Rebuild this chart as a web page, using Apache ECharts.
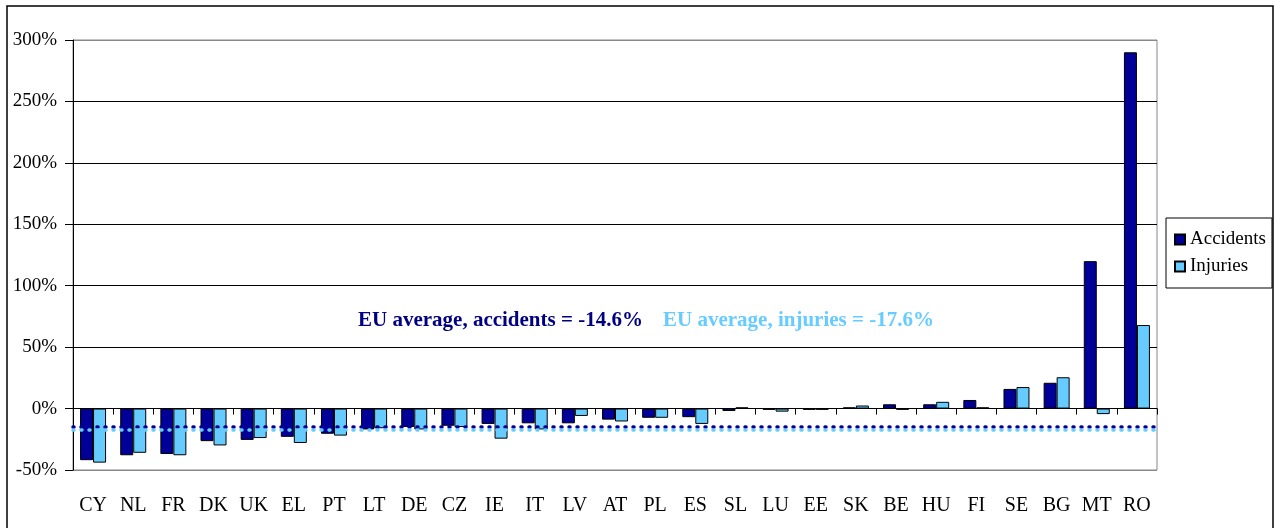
<!DOCTYPE html>
<html>
<head>
<meta charset="utf-8">
<title>Accidents and injuries change</title>
<script src="https://cdn.jsdelivr.net/npm/echarts@6/dist/echarts.min.js"></script>
<style>
  html, body { margin: 0; padding: 0; background: #fff; }
  #chart { width: 1276px; height: 528px; }
</style>
</head>
<body>
<div id="chart"></div>
<script>
var countries = ['CY', 'NL', 'FR', 'DK', 'UK', 'EL', 'PT', 'LT', 'DE', 'CZ', 'IE', 'IT', 'LV', 'AT', 'PL', 'ES', 'SL', 'LU', 'EE', 'SK', 'BE', 'HU', 'FI', 'SE', 'BG', 'MT', 'RO'];
var accidents = [-42, -38, -37, -26.5, -25.5, -23, -20.5, -17, -15, -14, -12.5, -12, -12, -9, -7.5, -7, -2, -1, -1, 1, 3.5, 3.5, 7, 16, 21, 120, 290];
var injuries = [-44, -36, -38, -30, -24, -28, -22, -16, -17, -15, -24.5, -17, -6, -10.5, -7.5, -12.5, 1, -2.5, -1, 2.5, -1, 5.5, 1, 17.5, 25.5, -4.5, 68];
var accidentsAvg = -14.6;
var injuriesAvg = -17.6;
var yTicks = { min: -50, max: 300, step: 50 };

var navy = '#000099';
var sky = '#66CCFF';
var serif = '"Liberation Serif", "DejaVu Serif", serif';

var chart = echarts.init(document.getElementById('chart'), null, {renderer: 'canvas'});

chart.setOption({
    animation: false,
    backgroundColor: '#fff',
    grid: {
        left: 73, top: 40, right: 119, bottom: 58,
        show: true, borderColor: '#888', borderWidth: 1, backgroundColor: 'transparent'
    },
    legend: {
        orient: 'vertical',
        left: 1166, top: 218,
        padding: [12, 6, 12, 8],
        itemGap: 8,
        itemWidth: 10, itemHeight: 10,
        itemTextGap: 9,
        icon: 'rect',
        borderColor: '#000', borderWidth: 1,
        textStyle: { fontFamily: serif, fontSize: 19, color: '#000' },
        data: ['Accidents', 'Injuries']
    },
    xAxis: [{
        type: 'category',
        data: countries,
        position: 'bottom',
        axisLine: { onZero: true, lineStyle: { color: '#000', width: 1 } },
        axisTick: { show: true, length: 6, lineStyle: { color: '#000' } },
        axisLabel: { show: false }
    }, {
        type: 'category',
        data: countries,
        position: 'bottom',
        axisLine: { show: false, onZero: false },
        axisTick: { show: false },
        axisLabel: { margin: 26, fontFamily: serif, fontSize: 20, color: '#000', interval: 0 }
    }],
    yAxis: {
        type: 'value',
        min: yTicks.min, max: yTicks.max, interval: yTicks.step,
        axisLine: { show: true, lineStyle: { color: '#000' } },
        axisTick: { show: true, length: 8, lineStyle: { color: '#000' } },
        axisLabel: {
            formatter: '{value}%', margin: 16,
            fontFamily: serif, fontSize: 19, color: '#000'
        },
        splitLine: { lineStyle: { color: ['#888', '#000', '#000', '#000', '#000', '#000', '#000', '#888'], width: 1 } }
    },
    series: [{
        name: 'Accidents',
        type: 'bar',
        data: accidents,
        barWidth: 13,
        barGap: '0%',
        itemStyle: { color: navy, borderColor: '#000', borderWidth: 1 },
        markLine: {
            silent: true, symbol: 'none', label: { show: false },
            lineStyle: { color: navy, type: [1, 7], width: 3.5, cap: 'round' },
            data: [{ yAxis: accidentsAvg }]
        }
    }, {
        name: 'Injuries',
        type: 'bar',
        data: injuries,
        barWidth: 13,
        barGap: '0%',
        itemStyle: { color: sky, borderColor: '#000', borderWidth: 1 },
        markLine: {
            silent: true, symbol: 'none', label: { show: false },
            lineStyle: { color: sky, type: [1, 7], width: 3.5, cap: 'round' },
            data: [{ yAxis: injuriesAvg }]
        }
    }],
    graphic: [{
        type: 'rect',
        shape: { x: 7, y: 6, width: 1266, height: 540 },
        style: { fill: 'none', stroke: '#000', lineWidth: 1.5 },
        silent: true, z: -1
    }, {
        type: 'text',
        left: 358, top: 310,
        style: {
            text: 'EU average, accidents = ' + accidentsAvg + '%',
            font: 'bold 21px ' + serif, fill: '#000080'
        }
    }, {
        type: 'text',
        left: 663, top: 310,
        style: {
            text: 'EU average, injuries = ' + injuriesAvg + '%',
            font: 'bold 21px ' + serif, fill: sky
        }
    }]
});
</script>
</body>
</html>
